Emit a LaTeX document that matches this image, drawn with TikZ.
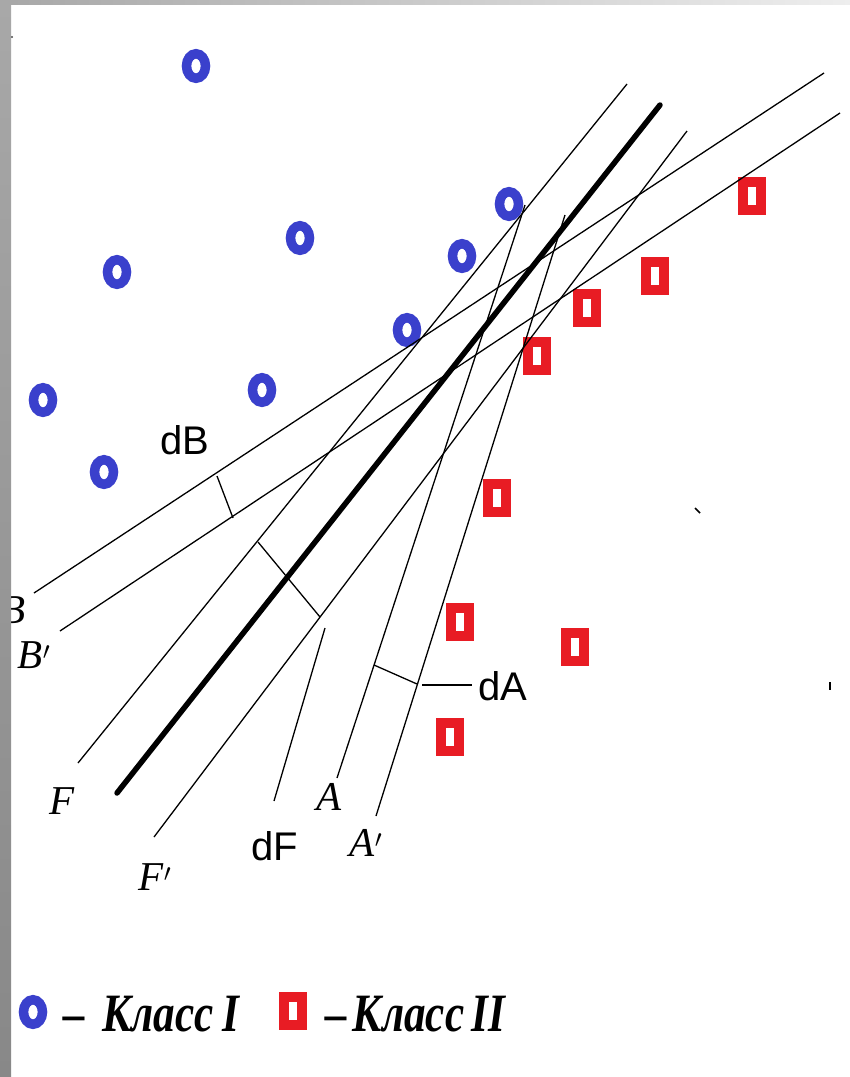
\documentclass[tikz,border=0pt]{standalone}
\usepackage{fontspec}
\setmainfont{Liberation Serif}
\newfontfamily\sansf{Liberation Sans}
\usetikzlibrary{shapes.geometric}
\definecolor{ringblue}{RGB}{58,64,204}
\definecolor{boxred}{RGB}{232,28,36}
\definecolor{edgegray}{RGB}{168,168,168}
\definecolor{edgedark}{RGB}{136,136,136}
\definecolor{edgelight}{RGB}{238,238,238}
\begin{document}
\begin{tikzpicture}[x=1pt,y=-1pt,
  thinline/.style={line width=1.3pt, black},
  mainline/.style={line width=5.5pt, line cap=round, black},
  ring/.style={ellipse, draw=ringblue, line width=9.5pt, minimum width=19pt, minimum height=24.5pt, inner sep=0pt},
  box/.style={rectangle, draw=boxred, line width=10pt, minimum width=18pt, minimum height=28pt, inner sep=0pt},
  lbl/.style={font=\fontsize{41}{41}\selectfont\itshape, inner sep=0pt},
  dlbl/.style={font=\sansf\fontsize{40}{40}\selectfont, inner sep=0pt},
  leg/.style={font=\fontsize{54}{54}\selectfont\bfseries\itshape, inner sep=0pt, anchor=base west},
  speck/.style={line width=1.6pt, black}]
\useasboundingbox (0,0) rectangle (850,1077);
\fill[white] (0,0) rectangle (850,1077);

% Class I markers
\foreach \n/\p in {c1/{(196,66)}, c2/{(509,204)}, c3/{(300,238)}, c4/{(462,256)}, c5/{(117,272)},
                   c6/{(407,330)}, c7/{(262,390)}, c8/{(43,400)}, c9/{(104,472)}}
  \node[ring] (\n) at \p {};
% Class II markers
\foreach \n/\p in {s1/{(752,196)}, s2/{(655,276)}, s3/{(587,308)}, s4/{(537,356)}, s5/{(497,498)},
                   s6/{(460,622)}, s7/{(575,647)}, s8/{(450,737)}}
  \node[box] (\n) at \p {};

% line end points
\coordinate (T1) at (117,793);  \coordinate (T2) at (660,105);
\coordinate (F1) at (78,763);   \coordinate (F2) at (627,84);
\coordinate (Fp1) at (154,837); \coordinate (Fp2) at (687,131);
\coordinate (B1) at (34,593);   \coordinate (B2) at (824,73);
\coordinate (Bp1) at (60,631);  \coordinate (Bp2) at (840,113);
\coordinate (A1) at (337,778);  \coordinate (A2) at (525,205);
\coordinate (Ap1) at (376,816); \coordinate (Ap2) at (565,215);

\draw[thinline] (F1) -- (F2);
\draw[thinline] (Fp1) -- (Fp2);
\draw[thinline] (B1) -- (B2);
\draw[thinline] (Bp1) -- (Bp2);
\draw[thinline] (A1) -- (A2);
\draw[thinline] (Ap1) -- (Ap2);
\draw[mainline] (T1) -- (T2);

% distance brackets
\coordinate (dB1) at (217,476); \coordinate (dB2) at (233,518);
\draw[thinline] (dB1) -- (dB2);
\coordinate (dF1) at (258,542); \coordinate (dF2) at (320,617);
\draw[thinline] (dF1) -- (dF2);
\coordinate (dA1) at (374,665); \coordinate (dA2) at (417,684);
\draw[thinline] (dA1) -- (dA2);

% labels
\node[dlbl] (ldB) at (185,440) {dB};
\node[dlbl] (ldA) at (503,686) {dA};
\node[dlbl] (ldF) at (275,846) {dF};
\coordinate (dAl1) at (422,685); \coordinate (dAl2) at (472,685);
\draw[thinline] (dAl1) -- (dAl2);
\coordinate (dFl1) at (325,628); \coordinate (dFl2) at (274,801);
\draw[thinline] (dFl1) -- (dFl2);

\node[lbl] (lB) at (13,610) {B};
\node[lbl] (lBp) at (34,655) {B$'$};
\node[lbl] (lF) at (62,801) {F};
\node[lbl] (lFp) at (155,877) {F$'$};
\node[lbl] (lA) at (329,797) {A};
\node[lbl] (lAp) at (366,843) {A$'$};

% legend
\node[ring] (k1) at (33,1012) {};
\node[leg] (k1t) at (63,1031) {\scalebox{0.8}[1]{–\hspace{0.4em}Класс\hspace{0.2em}I}};
\node[box] (k2) at (293,1011) {};
\node[leg] (k2t) at (325,1031) {\scalebox{0.8}[1]{–\hspace{0.14em}Класс\hspace{0.18em}II}};

% stray specks
\draw[speck] (695,508) -- (700,513);
\draw[speck] (830,682) -- (830,690);

% frame edges
\shade[top color=edgegray, bottom color=edgedark] (0,0) rectangle (11,1077);
\shade[left color=edgegray, right color=edgelight] (11,0) rectangle (850,4);
\fill[black!70] (12,37) circle (1.2pt);
\end{tikzpicture}
\end{document}
